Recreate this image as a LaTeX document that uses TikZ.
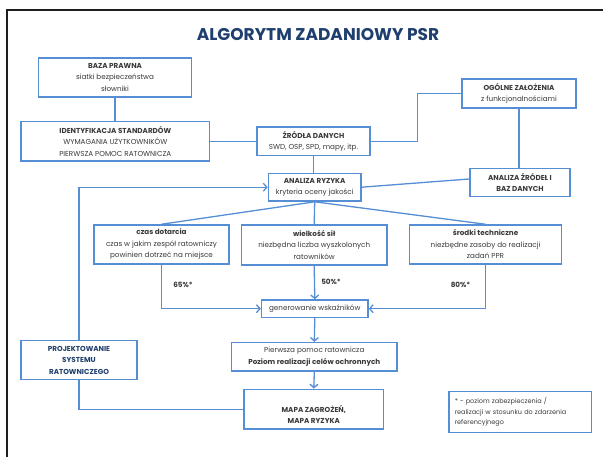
\documentclass[tikz,border=0pt]{standalone}
\usepackage{fontspec}
\setmainfont{Poppins}
\usetikzlibrary{arrows.meta,calc}
\definecolor{cLine}{HTML}{558ED5}
\definecolor{cTitle}{HTML}{1F3F6E}
\definecolor{cInk}{HTML}{3A3A3A}
\definecolor{cFrame}{HTML}{1E1E1E}
\tikzset{
  box/.style={draw=cLine,line width=1.5pt,fill=white,inner sep=2pt,align=center,
    text=cInk,font=\fontsize{7.2}{11.5}\selectfont},
  txt/.style={align=center,text=cInk,font=\fontsize{7.2}{11.5}\selectfont},
  link/.style={draw=cLine,line width=1.3pt},
  arr/.style={link,-{Straight Barb[length=3.5pt,width=8pt]}},
  pct/.style={text=cInk,font=\fontsize{7.2}{9}\selectfont\bfseries}
}
\newcommand{\hd}[1]{\textbf{#1}}

\begin{document}
\begin{tikzpicture}[x=1pt,y=-1pt]
  \useasboundingbox (0,0) rectangle (603,457);
  % frame and title
  \draw[cFrame,line width=2.4pt] (7,457) -- (7,10) -- (603,10);
  \node[text=cTitle,font=\fontsize{17}{20}\selectfont\bfseries] (title) at (318,35) {ALGORYTM ZADANIOWY PSR};

  % upper part
  \node[box,minimum width=153pt,minimum height=39pt] (baza) at (115,77.5)
    {\hd{BAZA PRAWNA}\\siatki bezpieczeństwa\\słowniki};
  \node[box,minimum width=114pt,minimum height=29pt] (ogolne) at (519,93.5)
    {\hd{OGÓLNE ZAŁOŻENIA}\\z funkcjonalnościami};
  \node[box,minimum width=188.6pt,minimum height=39.3pt] (ident) at (115.3,141.3)
    {\hd{IDENTYFIKACJA STANDARDÓW}\\WYMAGANIA UŻYTKOWNIKÓW\\PIERWSZA POMOC RATOWNICZA};
  \node[box,minimum width=113pt,minimum height=28.7pt] (zrodla) at (313.5,141.3)
    {\hd{ŹRÓDŁA DANYCH}\\SWD, OSP, SPD, mapy, itp.};
  \node[box,minimum width=100pt,minimum height=28.4pt] (analiza) at (520,182.5)
    {\hd{ANALIZA ŹRÓDEŁ I}\\\hd{BAZ DANYCH}};
  \node[box,minimum width=92.5pt,minimum height=27.7pt] (ryzyko) at (314.7,187.2)
    {\hd{ANALIZA RYZYKA}\\kryteria oceny jakości};

  % three criteria
  \node[box,minimum width=135pt,minimum height=39pt] (czas) at (161.5,244.5)
    {\hd{czas dotarcia}\\czas w jakim zespół ratowniczy\\powinien dotrzeć na miejsce};
  \node[box,minimum width=145.5pt,minimum height=40pt] (sily) at (314.2,245)
    {\hd{wielkość sił}\\niezbędna liczba wyszkolonych\\ratowników};
  \node[box,minimum width=152pt,minimum height=39pt] (srodki) at (485.5,244.5)
    {\hd{środki techniczne}\\niezbędne zasoby do realizacji\\zadań PPR};
  \node[pct] (p65) at (183,285) {65\%*};
  \node[pct] (p50) at (331,281.7) {50\%*};
  \node[pct] (p80) at (460.5,285) {80\%*};

  % lower part
  \node[box,minimum width=106.5pt,minimum height=17.3pt] (gen) at (314.8,308.7)
    {generowanie wskaźników};
  \node[box,minimum width=165.5pt,minimum height=28.3pt] (pomoc) at (314.3,356.8)
    {Pierwsza pomoc ratownicza\\\hd{Poziom realizacji celów ochronnych}};
  \node[box,minimum width=139.5pt,minimum height=39.7pt] (mapa) at (313.8,409.2) {};
  \node[txt] (mapatxt) at (313.8,414.5) {\hd{MAPA ZAGROŻEŃ,}\\\hd{MAPA RYZYKA}};
  \node[box,text=cTitle,minimum width=116pt,minimum height=38.7pt] (projekt) at (79,360)
    {\hd{PROJEKTOWANIE}\\\hd{SYSTEMU}\\\hd{RATOWNICZEGO}};
  \node[box,align=left,inner xsep=6pt,text width=130.5pt,minimum height=40.6pt,
    font=\fontsize{6.5}{10.8}\selectfont] (uwaga) at (520,412)
    {* - poziom zabezpieczenia /\\realizacji w stosunku do zdarzenia\\referencyjnego};

  % connectors
  \draw[link] (baza.south) -- (baza.south |- ident.north);
  \draw[link] (ident.east) -- (zrodla.west);
  \draw[link] (zrodla.east) -- ++(46.5,0) |- (ogolne.west);
  \draw[link] (ogolne.south) -- (ogolne.south |- analiza.north);
  \draw[link] (zrodla.south) -- (zrodla.south |- ryzyko.north);
  \draw[link] (ryzyko.east) -- ([yshift=3.5pt]analiza.west);
  \draw[arr] (projekt.north) |- (ryzyko.west);
  \draw[link] (ryzyko.south) -- (czas.north);
  \draw[link] (ryzyko.south) -- (sily.north);
  \draw[link] (ryzyko.south) -- (srodki.north);
  \draw[arr] (czas.south) |- (gen.west);
  \draw[arr] (srodki.south) |- (gen.east);
  \draw[arr] (sily.south) -- (gen.north);
  \draw[arr] (gen.south) -- (pomoc.north);
  \draw[arr] (pomoc.south) -- (mapa.north);
  \draw[link] (projekt.south) |- (mapa.west);
\end{tikzpicture}
\end{document}
